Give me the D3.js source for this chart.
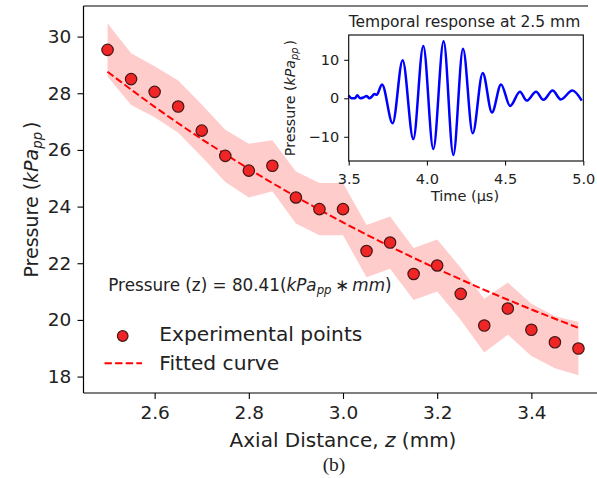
<!DOCTYPE html>
<html><head><meta charset="utf-8">
<script src="https://cdn.jsdelivr.net/npm/d3@7"></script>
<style>
body{margin:0;background:#fff}
text{font-family:"DejaVu Sans",sans-serif;fill:#222}
</style>
</head><body>
<svg id="c" width="597" height="478"></svg>
<script>
// ---- data ----
const distance = [2.5,2.55,2.6,2.65,2.7,2.75,2.8,2.85,2.9,2.95,3.0,3.05,3.1,3.15,3.2,3.25,3.3,3.35,3.4,3.45,3.5];
const pressure = [29.53,28.50,28.05,27.53,26.68,25.79,25.27,25.44,24.32,23.91,23.91,22.43,22.73,21.62,21.92,20.92,19.80,20.40,19.65,19.21,18.99];
const bandHalf = [0.94,0.91,0.90,0.92,0.92,0.92,0.95,0.90,0.92,0.92,0.92,0.92,0.92,0.92,0.92,0.92,0.95,0.92,0.92,0.92,0.94];
const fitted = [28.76,28.13,27.52,26.94,26.38,25.85,25.33,24.83,24.35,23.89,23.44,23.01,22.59,22.19,21.80,21.43,21.06,20.71,20.37,20.04,19.72];
const xTicks = [2.6,2.8,3.0,3.2,3.4];
const yTicks = [18,20,22,24,26,28,30];

const timeUs = [3.500,3.519,3.540,3.555,3.572,3.594,3.615,3.632,3.647,3.664,3.679,3.713,3.781,3.845,3.913,3.977,4.041,4.107,4.169,4.231,4.293,4.357,4.416,4.474,4.532,4.595,4.638,4.698,4.745,4.804,4.856,4.930,4.990];
const waveform = [0.7,0.0,0.0,0.8,0.0,0.2,0.6,0.0,0.4,1.1,0.9,3.6,-6.5,9.9,-10.6,13.6,-13.2,14.8,-14.7,12.9,-9.1,6.6,-3.7,3.6,-2.0,1.7,-0.6,1.7,-0.4,2.0,-0.3,2.0,-0.6];
const insetXTicks = [3.5,4.0,4.5,5.0];
const insetYTicks = [-10,0,10];

const svg = d3.select("#c");

// ---- main axes ----
const x = d3.scaleLinear().domain([2.45,3.55]).range([84,602]);
const y = d3.scaleLinear().domain([17.42,31.08]).range([393,6]);

const pts = distance.map((d,i)=>({x:d,p:pressure[i],e:bandHalf[i],f:fitted[i]}));

svg.append("path").datum(pts)
  .attr("d", d3.area().x(d=>x(d.x)).y0(d=>y(d.p-d.e)).y1(d=>y(d.p+d.e)))
  .attr("fill","#ffcccc");

svg.append("path").datum(pts)
  .attr("d", d3.line().x(d=>x(d.x)).y(d=>y(d.f)))
  .attr("fill","none").attr("stroke","#ff0000").attr("stroke-width",2)
  .attr("stroke-dasharray","7.4,3.2");

svg.append("g").selectAll("circle").data(pts).join("circle")
  .attr("cx",d=>x(d.x)).attr("cy",d=>y(d.p)).attr("r",5.7)
  .attr("fill","rgb(240,38,38)").attr("stroke","rgb(70,22,22)").attr("stroke-width",1.2);

// spines
svg.append("line").attr("x1",83.5).attr("x2",83.5).attr("y1",6).attr("y2",393).attr("stroke","#000").attr("stroke-width",1.2);
svg.append("line").attr("x1",83.5).attr("x2",597).attr("y1",393).attr("y2",393).attr("stroke","#000").attr("stroke-width",1.2);
svg.append("line").attr("x1",83.5).attr("x2",588).attr("y1",6).attr("y2",6).attr("stroke","#000").attr("stroke-width",1.2);

const gx = svg.append("g").attr("transform","translate(0,393)")
  .call(d3.axisBottom(x).tickValues(xTicks).tickFormat(d3.format(".1f")).tickSize(6).tickPadding(6.7));
const gy = svg.append("g").attr("transform","translate(83.5,0)")
  .call(d3.axisLeft(y).tickValues(yTicks).tickFormat(d3.format("d")).tickSize(6).tickPadding(6.3));
[gx,gy].forEach(g=>{
  g.select(".domain").remove();
  g.selectAll(".tick line").attr("stroke","#000").attr("stroke-width",1.1);
  g.selectAll(".tick text").attr("font-size","18.5px").attr("font-family","DejaVu Sans").attr("fill","#222");
});

// rich text helper
function rich(sel, parts, size){
  parts.forEach(pt=>{
    const ts = sel.append("tspan").text(pt.t);
    if(pt.it) ts.attr("font-style","italic");
    if(pt.sub){ ts.attr("font-size",(size*0.7)+"px").attr("dy",size*0.22); }
    if(pt.back){ ts.attr("dy",-size*0.22); }
    if(pt.dx) ts.attr("dx",pt.dx);
  });
}

// axis labels
const xl = svg.append("text").attr("x",343).attr("y",446.5).attr("text-anchor","middle").attr("font-size","20px");
rich(xl,[{t:"Axial Distance, "},{t:"z",it:true},{t:" (mm)"}],20);

const yl = svg.append("text").attr("transform","translate(37.5,199.5) rotate(-90)").attr("text-anchor","middle").attr("font-size","19px");
rich(yl,[{t:"Pressure ("},{t:"kPa",it:true},{t:"pp",it:true,sub:true},{t:")",back:true,dx:3}],19);

// annotation
const an = svg.append("text").attr("x",108.3).attr("y",290.7).attr("font-size","16.8px");
rich(an,[{t:"Pressure (z) = 80.41("},{t:"kPa",it:true},{t:"pp",it:true,sub:true},{t:"\u2009\u2217\u2009",back:true},{t:"mm",it:true},{t:")"}],16.8);

// legend
svg.append("circle").attr("cx",122.7).attr("cy",336).attr("r",5.3)
  .attr("fill","rgb(240,38,38)").attr("stroke","rgb(70,22,22)").attr("stroke-width",1.2);
svg.append("text").attr("x",159.3).attr("y",341).attr("font-size","20.2px").text("Experimental points");
svg.append("line").attr("x1",104.5).attr("x2",142).attr("y1",363.3).attr("y2",363.3)
  .attr("stroke","#ff0000").attr("stroke-width",2).attr("stroke-dasharray","7.4,3.2");
svg.append("text").attr("x",159.3).attr("y",369.5).attr("font-size","20.2px").text("Fitted curve");

// caption
svg.append("text").attr("x",334).attr("y",471).attr("text-anchor","middle")
  .attr("font-size","19.5px").style("font-family","'Liberation Serif',serif").text("(b)");

// ---- inset ----
const xi = d3.scaleLinear().domain([3.5,5.0]).range([348.7,583.3]);
const yi = d3.scaleLinear().domain([-16.29,16.44]).range([161,35]);
svg.append("rect").attr("x",348.7).attr("y",35).attr("width",234.6).attr("height",126).attr("fill","#fff");
const wave = timeUs.map((t,i)=>({t:t,v:waveform[i]}));
svg.append("path").datum(wave)
  .attr("d", d3.line().x(d=>xi(d.t)).y(d=>yi(d.v)).curve(d3.curveMonotoneX))
  .attr("fill","none").attr("stroke","#0000ff").attr("stroke-width",2.5).attr("stroke-linejoin","round");
svg.append("rect").attr("x",348.7).attr("y",35).attr("width",234.6).attr("height",126)
  .attr("fill","none").attr("stroke","#000").attr("stroke-width",1.1);

const gxi = svg.append("g").attr("transform","translate(0,161)")
  .call(d3.axisBottom(xi).tickValues(insetXTicks).tickFormat(d3.format(".1f")).tickSize(4.5).tickPadding(7.8));
const gyi = svg.append("g").attr("transform","translate(348.7,0)")
  .call(d3.axisLeft(yi).tickValues(insetYTicks).tickFormat(d3.format("d")).tickSize(4.5).tickPadding(5));
[gxi,gyi].forEach(g=>{
  g.select(".domain").remove();
  g.selectAll(".tick line").attr("stroke","#000").attr("stroke-width",1);
  g.selectAll(".tick text").attr("font-size","14.5px").attr("font-family","DejaVu Sans").attr("fill","#222");
});

svg.append("text").attr("x",464.5).attr("y",26.7).attr("text-anchor","middle").attr("font-size","15.5px")
  .text("Temporal response at 2.5 mm");
svg.append("text").attr("x",465).attr("y",201).attr("text-anchor","middle").attr("font-size","14.5px")
  .text("Time (\u00b5s)");
const yli = svg.append("text").attr("transform","translate(294.5,98) rotate(-90)").attr("text-anchor","middle").attr("font-size","14.2px");
rich(yli,[{t:"Pressure ("},{t:"kPa",it:true},{t:"pp",it:true,sub:true},{t:")",back:true,dx:2}],14.2);
</script>
</body></html>
